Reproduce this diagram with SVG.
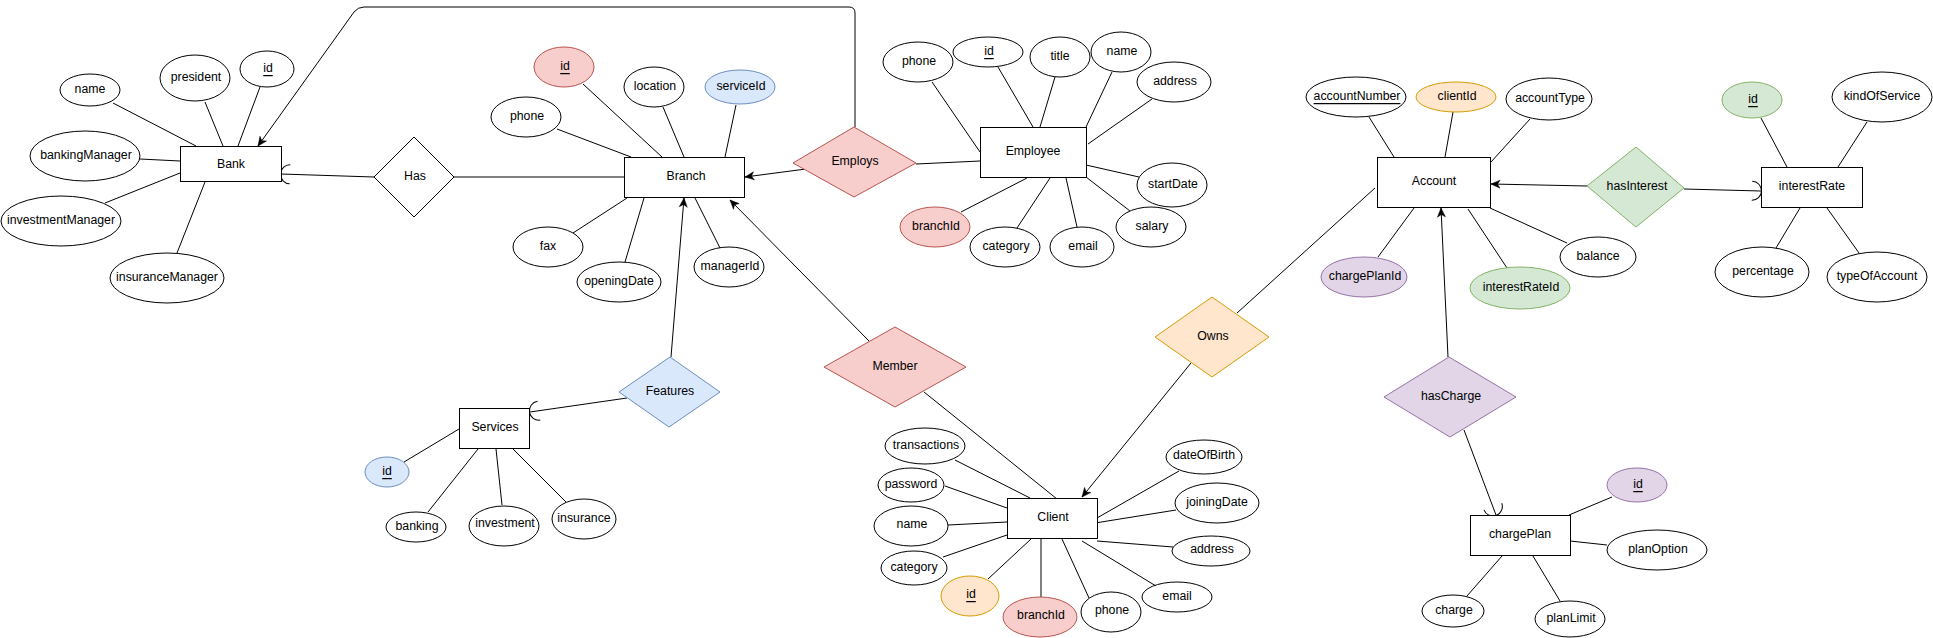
<svg xmlns="http://www.w3.org/2000/svg" width="1933" height="638" viewBox="0 0 1933 638">
<style>
text{font-family:"Liberation Sans",Arial,sans-serif;font-size:12.3px;text-anchor:middle;dominant-baseline:central;fill:#000}
.u{text-decoration:underline}
.ent{fill:#fff;stroke:#000;stroke-width:1}
.att{fill:#fff;stroke:#000;stroke-width:1}
.red{fill:#f8cecc;stroke:#b85450}
.blue{fill:#dae8fc;stroke:#6c8ebf}
.green{fill:#d5e8d4;stroke:#82b366}
.orange{fill:#ffe6cc;stroke:#d79b00}
.purple{fill:#e1d5e7;stroke:#9673a6}
.rel{stroke:#000;fill:#fff}
#connectors path{fill:none;stroke:#000;stroke-width:1}
</style>
<defs>
<marker id="arr" viewBox="-10 -5 11 10" refX="0" refY="0" markerWidth="11" markerHeight="10" orient="auto" markerUnits="userSpaceOnUse"><path d="M0,0 L-9,-4 L-6.5,0 L-9,4 Z" fill="#000" stroke="#000" stroke-width="0.5"/></marker>
<marker id="half" viewBox="-12 -12 14 24" refX="0" refY="0" markerWidth="14" markerHeight="24" orient="auto" markerUnits="userSpaceOnUse"><path d="M-9,-9.5 A9.5 9.5 0 0 1 -9,9.5" fill="none" stroke="#000" stroke-width="1"/></marker>
</defs>
<rect width="1933" height="638" fill="#fff"/>
<g id="connectors">
<path d="M113,103 L196,146"/><path d="M205,102 L223,146"/><path d="M260,87 L238,146"/><path d="M140,159 L180,161"/><path d="M105,203 L180,173"/><path d="M177,253 L205,182"/>
<path d="M374,177 L281,174" marker-end="url(#half)"/>
<path d="M454,177 L624,177"/>
<path d="M855,127 L855,13 Q855,7 849,7 L364,7 Q358,7 354,12 L258,146" marker-end="url(#arr)"/>
<path d="M583,84 L662,157"/><path d="M663,107 L684,157"/><path d="M736,105 L725,157"/><path d="M557,129 L631,157"/><path d="M573,233 L627,198"/><path d="M625,262 L644,198"/><path d="M720,248 L695,198"/>
<path d="M806,169 L745,177" marker-end="url(#arr)"/>
<path d="M916,164 L980,161"/>
<path d="M932,82 L980,152"/><path d="M998,67 L1033,127"/><path d="M1055,77 L1040,127"/><path d="M1112,72 L1086,127"/><path d="M1152,99 L1088,144"/><path d="M1139,177 L1086,165"/><path d="M1130,211 L1086,177"/><path d="M1077,227 L1066,178"/><path d="M1017,228 L1050,178"/><path d="M961,212 L1027,178"/>
<path d="M671,357 L684,198" marker-end="url(#arr)"/>
<path d="M627,398 L530,412" marker-end="url(#half)"/>
<path d="M404,462 L459,429"/><path d="M428,512 L478,449"/><path d="M502,505 L496,449"/><path d="M566,502 L513,449"/>
<path d="M869,341 L730,200" marker-end="url(#arr)"/>
<path d="M924,392 L1057,499"/>
<path d="M1191,363 L1082,497" marker-end="url(#arr)"/>
<path d="M1237,313 L1375,188"/>
<path d="M955,460 L1030,498"/><path d="M945,486 L1007,508"/><path d="M948,525 L1007,522"/><path d="M943,557 L1007,535"/><path d="M988,579 L1031,539"/><path d="M1041,597 L1041,537"/><path d="M1089,598 L1062,539"/><path d="M1156,586 L1082,541"/><path d="M1173,547 L1097,541"/><path d="M1176,510 L1095,523"/><path d="M1179,471 L1097,518"/>
<path d="M1369,117 L1394,157"/><path d="M1453,112 L1445,157"/><path d="M1530,119 L1491,162"/><path d="M1378,257 L1414,208"/><path d="M1507,268 L1468,209"/><path d="M1567,243 L1490,208"/>
<path d="M1587,186 L1491,184" marker-end="url(#arr)"/>
<path d="M1684,189 L1761,191" marker-end="url(#half)"/>
<path d="M1761,118 L1787,167"/><path d="M1867,122 L1838,167"/><path d="M1776,248 L1800,208"/><path d="M1859,253 L1827,208"/>
<path d="M1448,357 L1441,208" marker-end="url(#arr)"/>
<path d="M1464,430 L1496,515" marker-end="url(#half)"/>
<path d="M1612,497 L1569,515"/><path d="M1607,545 L1570,541"/><path d="M1467,596 L1502,556"/><path d="M1560,601 L1533,556"/>
</g>
<!-- Bank -->
<g id="bank"><rect class="ent" x="180.5" y="146.5" width="101" height="35"/><text x="231" y="164">Bank</text></g>
<g id="bank-name"><ellipse class="att" cx="90" cy="90" rx="30" ry="16"/><text x="90" y="89">name</text></g>
<g id="bank-president"><ellipse class="att" cx="195" cy="78" rx="35" ry="23"/><text x="196" y="77">president</text></g>
<g id="bank-id"><ellipse class="att" cx="267" cy="69" rx="27" ry="18"/><text class="u" x="268" y="68">id</text></g>
<g id="bank-bankingManager"><ellipse class="att" cx="85" cy="156" rx="55" ry="25"/><text x="86" y="155">bankingManager</text></g>
<g id="bank-investmentManager"><ellipse class="att" cx="61" cy="221" rx="60" ry="25"/><text x="61" y="220">investmentManager</text></g>
<g id="bank-insuranceManager"><ellipse class="att" cx="167" cy="278" rx="57" ry="25"/><text x="167" y="277">insuranceManager</text></g>
<g id="has"><polygon class="rel" points="414,137 454,177 414,217 374,177"/><text x="415" y="176">Has</text></g>
<!-- Branch -->
<g id="branch"><rect class="ent" x="624.5" y="157.5" width="120" height="40"/><text x="686" y="176">Branch</text></g>
<g id="branch-id"><ellipse class="red" cx="564" cy="67" rx="30" ry="20"/><text class="u" x="565" y="66">id</text></g>
<g id="branch-location"><ellipse class="att" cx="654" cy="87" rx="30" ry="20"/><text x="655" y="86">location</text></g>
<g id="branch-serviceId"><ellipse class="blue" cx="740" cy="87" rx="35" ry="17"/><text x="741" y="86">serviceId</text></g>
<g id="branch-phone"><ellipse class="att" cx="526" cy="117" rx="35" ry="20"/><text x="527" y="116">phone</text></g>
<g id="branch-fax"><ellipse class="att" cx="548" cy="247" rx="35" ry="20"/><text x="548" y="246">fax</text></g>
<g id="branch-openingDate"><ellipse class="att" cx="619" cy="282" rx="42" ry="20"/><text x="619" y="281">openingDate</text></g>
<g id="branch-managerId"><ellipse class="att" cx="729" cy="267" rx="35" ry="20"/><text x="730" y="266">managerId</text></g>
<g id="employs"><polygon class="red" points="854,127 916,163 854,197 793,163"/><text x="855" y="161">Employs</text></g>
<!-- Employee -->
<g id="employee"><rect class="ent" x="980.5" y="127.5" width="106" height="50"/><text x="1033" y="151">Employee</text></g>
<g id="emp-phone"><ellipse class="att" cx="918" cy="62" rx="35" ry="20"/><text x="919" y="61">phone</text></g>
<g id="emp-id"><ellipse class="att" cx="988" cy="52" rx="35" ry="15"/><text class="u" x="989" y="51">id</text></g>
<g id="emp-title"><ellipse class="att" cx="1060" cy="57" rx="30" ry="20"/><text x="1060" y="56">title</text></g>
<g id="emp-name"><ellipse class="att" cx="1121" cy="52" rx="30" ry="20"/><text x="1122" y="51">name</text></g>
<g id="emp-address"><ellipse class="att" cx="1174" cy="82" rx="37" ry="20"/><text x="1175" y="81">address</text></g>
<g id="emp-startDate"><ellipse class="att" cx="1172" cy="185" rx="35" ry="22"/><text x="1173" y="184">startDate</text></g>
<g id="emp-salary"><ellipse class="att" cx="1151" cy="227" rx="35" ry="20"/><text x="1152" y="226">salary</text></g>
<g id="emp-email"><ellipse class="att" cx="1082" cy="247" rx="32" ry="20"/><text x="1083" y="246">email</text></g>
<g id="emp-category"><ellipse class="att" cx="1005" cy="247" rx="35" ry="20"/><text x="1006" y="246">category</text></g>
<g id="emp-branchId"><ellipse class="red" cx="935" cy="227" rx="35" ry="20"/><text x="936" y="226">branchId</text></g>
<!-- Services -->
<g id="services"><rect class="ent" x="459.5" y="408.5" width="70" height="40"/><text x="495" y="427">Services</text></g>
<g id="features"><polygon class="blue" points="670,357 720,392 669,427 619,392"/><text x="670" y="391">Features</text></g>
<g id="svc-id"><ellipse class="blue" cx="387" cy="472" rx="22" ry="15"/><text class="u" x="387" y="471">id</text></g>
<g id="svc-banking"><ellipse class="att" cx="416" cy="527" rx="30" ry="15"/><text x="417" y="526">banking</text></g>
<g id="svc-investment"><ellipse class="att" cx="504" cy="526" rx="35" ry="20"/><text x="505" y="523">investment</text></g>
<g id="svc-insurance"><ellipse class="att" cx="584" cy="519" rx="32" ry="20"/><text x="584" y="518">insurance</text></g>
<!-- Member / Owns -->
<g id="member"><polygon class="red" points="895,327 966,367 895,407 824,367"/><text x="895" y="366">Member</text></g>
<g id="owns"><polygon class="orange" points="1212,297 1269,337 1212,377 1155,337"/><text x="1213" y="336">Owns</text></g>
<!-- Client -->
<g id="client"><rect class="ent" x="1007.5" y="498.5" width="90" height="40"/><text x="1053" y="517">Client</text></g>
<g id="cl-transactions"><ellipse class="att" cx="925" cy="446" rx="40" ry="18"/><text x="926" y="445">transactions</text></g>
<g id="cl-password"><ellipse class="att" cx="911" cy="485" rx="33" ry="17"/><text x="911" y="484">password</text></g>
<g id="cl-name"><ellipse class="att" cx="911" cy="526" rx="37" ry="20"/><text x="912" y="524">name</text></g>
<g id="cl-category"><ellipse class="att" cx="914" cy="568" rx="33" ry="17"/><text x="914" y="567">category</text></g>
<g id="cl-id"><ellipse class="orange" cx="970" cy="596" rx="29" ry="20"/><text class="u" x="971" y="594">id</text></g>
<g id="cl-branchId"><ellipse class="red" cx="1040" cy="617" rx="37" ry="20"/><text x="1041" y="615">branchId</text></g>
<g id="cl-phone"><ellipse class="att" cx="1111" cy="612" rx="30" ry="20"/><text x="1112" y="610">phone</text></g>
<g id="cl-email"><ellipse class="att" cx="1177" cy="597" rx="35" ry="15"/><text x="1177" y="596">email</text></g>
<g id="cl-address"><ellipse class="att" cx="1211" cy="551" rx="39" ry="15"/><text x="1212" y="549">address</text></g>
<g id="cl-joiningDate"><ellipse class="att" cx="1217" cy="503" rx="42" ry="20"/><text x="1217" y="502">joiningDate</text></g>
<g id="cl-dateOfBirth"><ellipse class="att" cx="1204" cy="457" rx="38" ry="17"/><text x="1204" y="455">dateOfBirth</text></g>
<!-- Account -->
<g id="account"><rect class="ent" x="1377.5" y="157.5" width="113" height="50"/><text x="1434" y="181">Account</text></g>
<g id="acc-accountNumber"><ellipse class="att" cx="1356" cy="97" rx="50" ry="20"/><text class="u" x="1357" y="96">accountNumber</text></g>
<g id="acc-clientId"><ellipse class="orange" cx="1456" cy="97" rx="40" ry="15"/><text x="1457" y="96">clientId</text></g>
<g id="acc-accountType"><ellipse class="att" cx="1549" cy="99" rx="43" ry="21"/><text x="1550" y="98">accountType</text></g>
<g id="acc-balance"><ellipse class="att" cx="1598" cy="257" rx="38" ry="20"/><text x="1598" y="256">balance</text></g>
<g id="acc-interestRateId"><ellipse class="green" cx="1520" cy="288" rx="50" ry="21"/><text x="1521" y="287">interestRateId</text></g>
<g id="acc-chargePlanId"><ellipse class="purple" cx="1364" cy="277" rx="43" ry="20"/><text x="1365" y="276">chargePlanId</text></g>
<g id="hasInterest"><polygon class="green" points="1636,147 1684,188 1636,227 1587,186"/><text x="1637" y="186">hasInterest</text></g>
<!-- interestRate -->
<g id="interestRate"><rect class="ent" x="1761.5" y="167.5" width="101" height="40"/><text x="1812" y="186">interestRate</text></g>
<g id="ir-id"><ellipse class="green" cx="1752" cy="100" rx="30" ry="18"/><text class="u" x="1753" y="99">id</text></g>
<g id="ir-kindOfService"><ellipse class="att" cx="1882" cy="97" rx="50" ry="25"/><text x="1882" y="96">kindOfService</text></g>
<g id="ir-percentage"><ellipse class="att" cx="1762" cy="272" rx="47" ry="25"/><text x="1763" y="271">percentage</text></g>
<g id="ir-typeOfAccount"><ellipse class="att" cx="1877" cy="277" rx="50" ry="25"/><text x="1877" y="276">typeOfAccount</text></g>
<!-- chargePlan -->
<g id="hasCharge"><polygon class="purple" points="1449,357 1516,397 1450,437 1384,397"/><text x="1451" y="396">hasCharge</text></g>
<g id="chargePlan"><rect class="ent" x="1470.5" y="515.5" width="100" height="40"/><text x="1520" y="534">chargePlan</text></g>
<g id="cp-id"><ellipse class="purple" cx="1637" cy="485" rx="30" ry="17"/><text class="u" x="1638" y="484">id</text></g>
<g id="cp-planOption"><ellipse class="att" cx="1657" cy="550" rx="50" ry="20"/><text x="1658" y="549">planOption</text></g>
<g id="cp-charge"><ellipse class="att" cx="1453" cy="611" rx="31" ry="16"/><text x="1454" y="610">charge</text></g>
<g id="cp-planLimit"><ellipse class="att" cx="1570" cy="619" rx="35" ry="18"/><text x="1571" y="618">planLimit</text></g>
</svg>
